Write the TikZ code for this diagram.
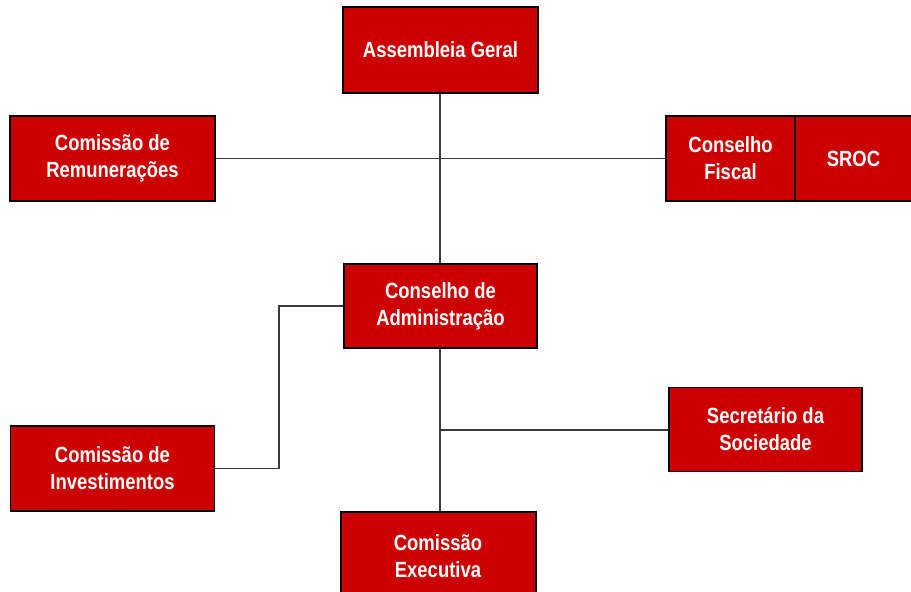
\documentclass[tikz,border=0pt]{standalone}
\usepackage{fontspec}
\setmainfont{Liberation Sans}[FakeStretch=0.84]
\definecolor{boxred}{HTML}{CC0000}
\definecolor{linegray}{HTML}{3A3A3A}
\begin{document}
\begin{tikzpicture}[x=1pt,y=-1pt,
  orgbox/.style={draw=black, line width=1.1pt, fill=boxred, text=white,
    font=\bfseries\fontsize{22}{27}\selectfont, align=center, inner sep=0pt},
  conn/.style={draw=linegray, line width=1.1pt}]
\useasboundingbox (0,0) rectangle (911,592);
% boxes
\node[orgbox, minimum width=195pt, minimum height=86pt] (ag) at (440.5,50) {Assembleia Geral};
\node[orgbox, minimum width=205pt, minimum height=85pt] (cr) at (112.5,158.5) {Comissão de\\Remunerações};
\node[orgbox, minimum width=129pt, minimum height=85pt] (cf) at (730.5,158.5) {Conselho\\Fiscal};
\node[orgbox, minimum width=116pt, minimum height=85pt] (sroc) at (853.5,158.5) {SROC};
\node[orgbox, minimum width=193pt, minimum height=84pt] (ca) at (440.5,306) {Conselho de\\Administração};
\node[orgbox, minimum width=204pt, minimum height=85pt] (ci) at (112.5,468.5) {Comissão de\\Investimentos};
\node[orgbox, minimum width=193pt, minimum height=84pt] (ss) at (765.5,429.5) {Secretário da\\Sociedade};
\node[orgbox, minimum width=195pt, minimum height=84pt] (ce) at (438.5,554) {};
\node[text=white, font=\bfseries\fontsize{22}{27}\selectfont, align=center, inner sep=0pt] (cet) at (438,556) {Comissão\\Executiva};
% connectors
\coordinate (j1) at (440,158.5);
\coordinate (j2) at (440,430);
\coordinate (k1) at (279,468.5);
\coordinate (k2) at (279,306);
\draw[conn] (ag.south -| j1) -- (ca.north -| j1);
\draw[conn] (cr.east) -- (cf.west);
\draw[conn] (ca.south -| j1) -- (ce.north -| j1);
\draw[conn] (j2) -- (ss.west |- j2);
\draw[conn] (ci.east |- k1) -- (k1) -- (k2) -- (ca.west |- k2);
\end{tikzpicture}
\end{document}
